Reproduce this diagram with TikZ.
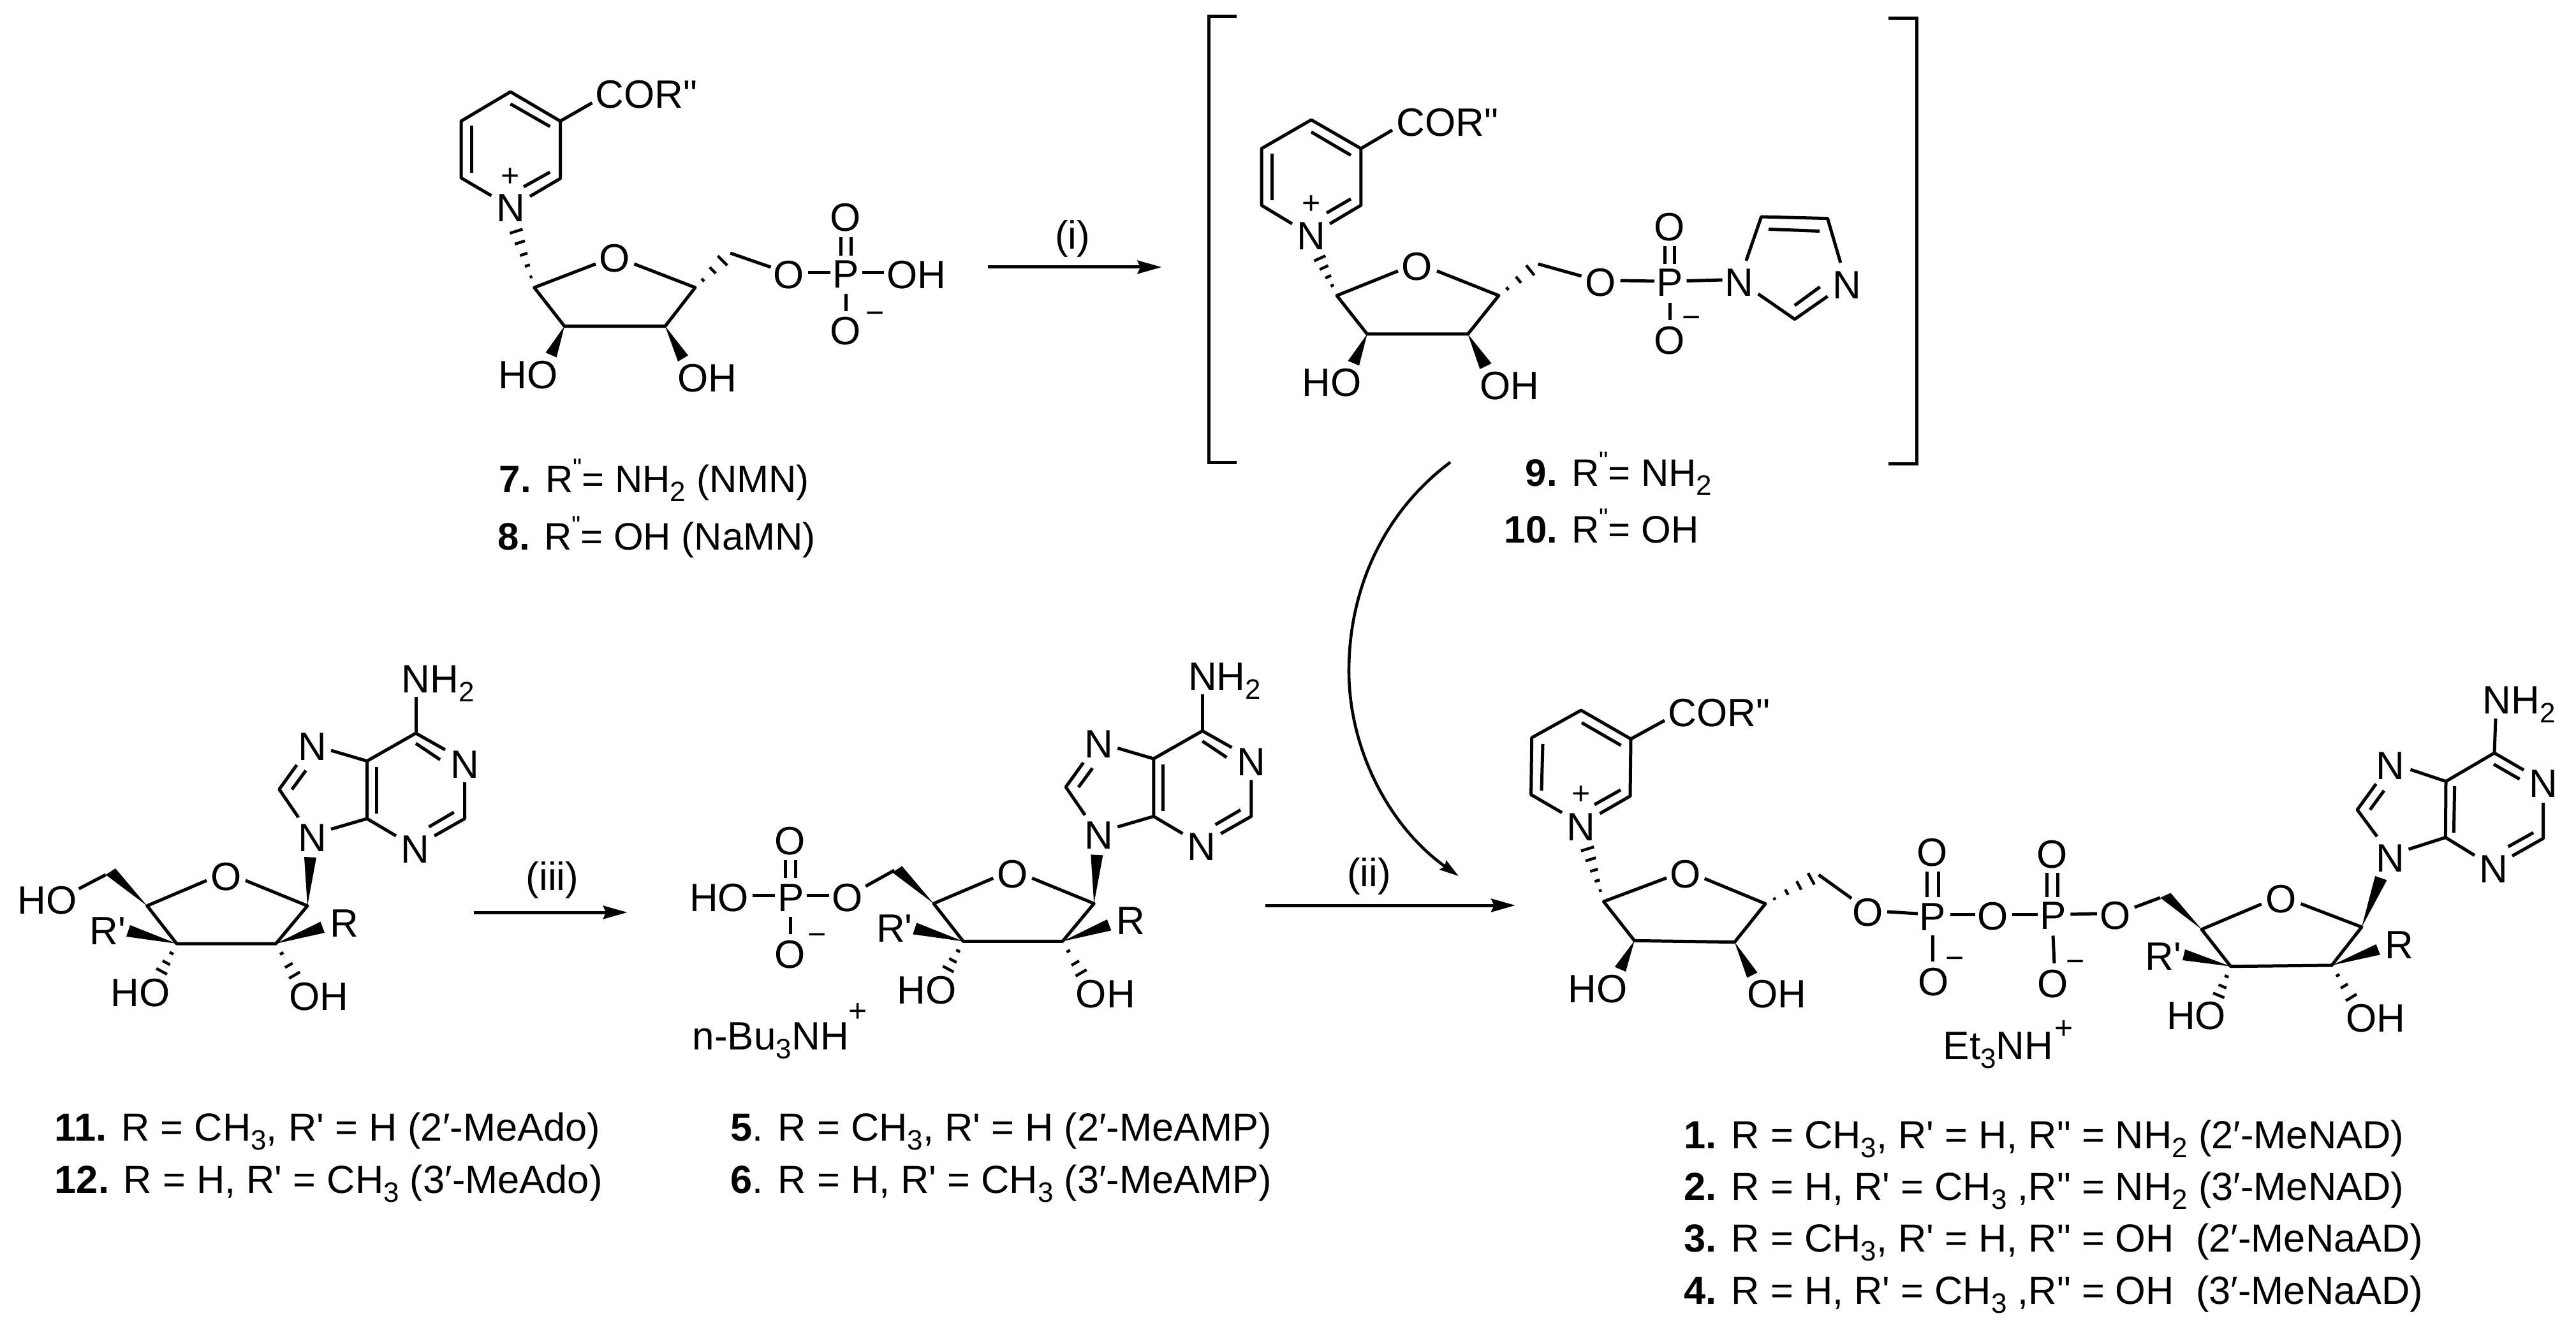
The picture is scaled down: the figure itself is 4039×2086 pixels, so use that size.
\documentclass[tikz,border=0pt]{standalone}
\usepackage{fontspec}
\usetikzlibrary{calc,arrows.meta}
\newfontfamily\chemf{Liberation Sans}
\newcommand{\sbs}[1]{\raisebox{-3.5pt}{\fontsize{11}{11}\selectfont #1}}
\newcommand{\Rq}{R\raisebox{6.3pt}{\fontsize{10}{10}\selectfont"}}
\newcommand{\atm}[3]{\node[atom] (#1) at (#2) {#3};}
\newcommand{\chg}[3]{\node[chgst] (#1) at (#2) {#3};}
\newcommand{\ltx}[3]{\node[lbl] (#1) at (#2) {#3};}
\newcommand{\ltb}[3]{\node[lblb] (#1) at (#2) {#3};}
\newcommand{\hashed}[4]{\foreach \t in {#3}{\draw[hashbar] ($(#1)!\t!(#2)!{\t*#4*0.25pt}!90:(#2)$) -- ($(#1)!\t!(#2)!{\t*#4*0.25pt}!-90:(#2)$);}}
\newcommand{\adeno}{%
 \draw[bond] (652,1150)--(652,1093);
 \draw[bond] (698,1176)--(652,1150)--(575.5,1193.6)--(575.5,1284)--(621,1311);
 \draw[bond] (652,1166)--(690,1191.5);
 \draw[bond] (728.6,1227)--(728.6,1284)--(681,1311);
 \draw[bond] (672.4,1297)--(711.7,1274);
 \draw[bond] (590,1203)--(590,1276);
 \draw[bond] (575.5,1193.6)--(519,1177);
 \draw[bond] (465.3,1199.8)--(437.8,1238)--(467.9,1282);
 \draw[bond] (457.7,1238.3)--(479.6,1208.5);
 \draw[bond] (519,1300.5)--(575.5,1284);
 \draw[bond] (324,1381)--(230.6,1420.7)--(277,1480)--(432.7,1480)--(482,1420.7)--(385,1381);
 \fill (482,1420.7)--(477,1344)--(496,1345)--cycle;
 \fill (432.7,1480)--(502.5,1445.6)--(509,1463)--cycle;
 \fill (277,1480)--(204,1451)--(198,1469)--cycle;
 \fill (230.6,1420.7)--(165.8,1372)--(181,1362)--cycle;
 \hashed{277,1480}{250,1530}{.3,.6,.87}{11}
 \hashed{432.7,1480}{465,1535}{.28,.62,.9}{11}
 \atm{n7}{490,1170}{N}
 \atm{n1}{728.6,1198}{N}
 \atm{n3}{650.5,1331}{N}
 \atm{n9}{490,1313}{N}
 \atm{o}{354.6,1374}{O}
 \atm{r}{539.5,1447}{R}
 \atm{rp}{169,1459}{R'}
 \atm{ho}{220,1556}{HO}
 \atm{oh}{500,1562}{OH}
 \node[lbla] (nh) at (629,1086) {NH\sbs{2}};
}
\tikzset{
 x=0.25pt,y=-0.25pt,
 bond/.style={line width=1.25pt,line join=round},
 hashbar/.style={line width=1.1pt},
 atom/.style={inner sep=0pt,anchor=center,text height=11pt,text depth=0pt,font=\chemf\fontsize{15.5}{18}\selectfont},
 lbla/.style={inner sep=0pt,anchor=base west,font=\chemf\fontsize{15.5}{18}\selectfont},
 lbl/.style={inner sep=0pt,anchor=base west,font=\chemf\fontsize{15}{18}\selectfont},
 lblb/.style={inner sep=0pt,anchor=base west,font=\chemf\fontsize{15.35}{18}\selectfont},
 chgst/.style={inner sep=0pt,anchor=base,yshift=-4.25pt,font=\chemf\fontsize{12.5}{14}\selectfont},
 rxn/.style={line width=1.25pt,-{Stealth[length=9.5pt,width=5.2pt,inset=1.2pt]}},
 rxnc/.style={line width=1.15pt,-{Stealth[length=7.5pt,width=4.4pt,inset=1pt]}},
 brk/.style={line width=1.25pt,line join=miter},
}
\begin{document}
\begin{tikzpicture}
\fill[white] (0,0) rectangle (4039,2086);
\useasboundingbox (0,0) rectangle (4039,2086);
% ---- compound 7/8
\draw[bond] (770.5,307)--(723,279)--(723,190)--(800.4,144)--(878.5,190)--(878.5,280)--(831,308);
\draw[bond] (800.4,163)--(862.4,198.5);
\draw[bond] (739,197)--(739,271);
\draw[bond] (821,293)--(862.4,270);
\draw[bond] (878.5,190)--(928.4,161.4);
\draw[bond] (934,414)--(837.7,451)--(885,511.6)--(1043,511.6)--(1090,451)--(994.4,414);
\fill (885,511.6)--(855.5,553)--(872.7,560.6)--cycle;
\fill (1043,511.6)--(1063,567)--(1079,557.5)--cycle;
\hashed{838,451}{808,358}{.18,.37,.56,.76,.95}{11}
\hashed{1090,451}{1145,397}{.22,.5,.78}{13.5}
\draw[bond] (1145,397)--(1208.5,419);
\draw[bond] (1267,428)--(1301.5,428);
\draw[bond] (1351.5,428)--(1386,428);
\draw[bond] (1318.7,372)--(1318.7,400.6);
\draw[bond] (1334,372)--(1334,400.6);
\draw[bond] (1326,461)--(1326,488);
\node[lbla] (cor7) at (933,170) {COR"};
\atm{n7a}{801,326}{N}
\chg{p7}{800.4,276}{+}
\atm{o7r}{963.4,405}{O}
\atm{o7a}{1236.6,431}{O}
\atm{p7a}{1326,430}{P}
\atm{oh7a}{1437,431}{OH}
\atm{o7b}{1326,341}{O}
\atm{o7c}{1326,519}{O}
\chg{m7}{1372,491}{−}
\atm{ho7}{828,588}{HO}
\atm{oh7}{1109,592}{OH}
\ltx{l7}{782,772.7}{\textbf{7.} \Rq= NH\sbs{2} (NMN)}
\ltx{l8}{780,862.7}{\textbf{8.} \Rq= OH (NaMN)}
% ---- arrow i
\coordinate (a1s) at (1549,419);
\coordinate (a1e) at (1821.4,419);
\draw[rxn] (a1s)--(a1e);
\atm{li}{1681.6,369}{(i)}
% ---- brackets
\draw[brk] (1939,26)--(1895,26)--(1895,726)--(1939,726);
\draw[brk] (2961,29)--(3005,29)--(3005,728)--(2961,728);
% ---- compound 9/10
\draw[bond] (2026,351)--(1978,322)--(1978,233)--(2056,188)--(2133.8,233)--(2133.8,322)--(2085,351);
\draw[bond] (2056,207)--(2118,243.5);
\draw[bond] (1994,241)--(1994,314);
\draw[bond] (2080,334)--(2118,312);
\draw[bond] (2133.8,233)--(2183,204);
\draw[bond] (2192,425)--(2096,463.6)--(2143.6,524)--(2301.5,524)--(2350,463.6)--(2253,425);
\fill (2143.6,524)--(2113.5,566)--(2131,573.4)--cycle;
\fill (2301.5,524)--(2320.4,579)--(2338.6,570)--cycle;
\hashed{2096,463.6}{2066,398}{.24,.45,.67,.89}{11}
\hashed{2350,463.6}{2411.6,414}{.22,.5,.8}{12.5}
\draw[bond] (2411.6,414)--(2479.6,433);
\draw[bond] (2540.7,440)--(2594,441);
\draw[bond] (2644.5,440.6)--(2700.6,439);
\draw[bond] (2610,386)--(2610,414);
\draw[bond] (2625.5,386)--(2625.5,414);
\draw[bond] (2618,475)--(2618,502);
\draw[bond] (2737.8,409)--(2761.6,340)--(2865.5,342.6)--(2885.8,412);
\draw[bond] (2773,359.5)--(2853,362.5);
\draw[bond] (2865.5,464.7)--(2814,500.7)--(2756.7,461);
\draw[bond] (2814,479)--(2853.5,450);
\node[lbla] (cor9) at (2189,214) {COR"};
\atm{n9a}{2056,370}{N}
\chg{p9}{2056,319}{+}
\atm{o9r}{2222,417.6}{O}
\atm{o9a}{2510,442.5}{O}
\atm{p9a}{2618,442.5}{P}
\atm{n9b}{2727,442.5}{N}
\atm{n9c}{2895.6,446.3}{N}
\atm{o9b}{2618,355.6}{O}
\atm{o9c}{2618,533.6}{O}
\chg{m9}{2652,498}{−}
\atm{ho9}{2088,600}{HO}
\atm{oh9}{2367,605}{OH}
\ltx{l9}{2391,762}{\textbf{9.} \Rq= NH\sbs{2}}
\ltx{l10}{2358,851}{\textbf{10.} \Rq= OH}
% ---- curved arrow ii
\coordinate (a3s) at (2274,725);
\coordinate (a3m) at (2115,1052);
\coordinate (a3e) at (2287,1374);
\draw[rxnc] (a3s) .. controls (2170,802.6) and (2115,923) .. (a3m) .. controls (2115,1180) and (2182,1300) .. (a3e);
% ---- compound 11/12
\begin{scope}[name prefix=c11-]
\adeno
\draw[bond] (165.8,1372)--(123.5,1394);
\atm{hoa}{74,1411}{HO}
\end{scope}
\ltb{l11}{85,1789}{\textbf{11.} R = CH\sbs{3}, R' = H (2′-MeAdo)}
\ltb{l12}{85,1871}{\textbf{12.} R = H, R' = CH\sbs{3} (3′-MeAdo)}
% ---- arrow iii
\coordinate (a2s) at (742.5,1431);
\coordinate (a2e) at (983.6,1431);
\draw[rxn] (a2s)--(a2e);
\atm{liii}{866,1374}{(iii)}
% ---- compound 5/6
\begin{scope}[shift={(1233.3,-3.6)},name prefix=c5-]
\adeno
\end{scope}
\draw[bond] (1402.3,1365)--(1357.3,1390);
\draw[bond] (1180,1404.6)--(1215,1404.6);
\draw[bond] (1265,1404.6)--(1300.4,1404.6);
\draw[bond] (1231,1349)--(1231,1377);
\draw[bond] (1247,1349)--(1247,1377);
\draw[bond] (1239,1437.6)--(1239,1465);
\atm{ho5}{1127.5,1407}{HO}
\atm{p5}{1240,1407}{P}
\atm{o5a}{1329,1407.5}{O}
\atm{o5b}{1238.6,1318}{O}
\atm{o5c}{1238.6,1496.5}{O}
\chg{m5}{1281,1465}{−}
\node[lbla] (bu) at (1085,1646) {n-Bu\sbs{3}NH};
\chg{pbu}{1345.4,1585}{+}
\ltb{l5}{1145,1789}{\textbf{5}. R = CH\sbs{3}, R' = H (2′-MeAMP)}
\ltb{l6}{1145,1871}{\textbf{6}. R = H, R' = CH\sbs{3} (3′-MeAMP)}
% ---- arrow ii
\coordinate (a4s) at (1983.5,1420);
\coordinate (a4e) at (2376,1420);
\draw[rxn] (a4s)--(a4e);
\atm{lii}{2146.5,1368}{(ii)}
% ---- compound 1-4
\draw[bond] (2449,1274.5)--(2400.6,1246.4)--(2401.7,1157)--(2479,1114)--(2557,1159)--(2556,1248.6)--(2508.5,1276);
\draw[bond] (2480,1133.5)--(2541.5,1169);
\draw[bond] (2419,1167)--(2417,1240);
\draw[bond] (2500,1262)--(2541,1239);
\draw[bond] (2557,1159)--(2610,1130);
\draw[bond] (2613,1377)--(2514.4,1414)--(2562.7,1475.4)--(2719.8,1477.6)--(2768,1417.4)--(2672.7,1378);
\fill (2562.7,1475.4)--(2531.8,1516.5)--(2549,1524)--cycle;
\fill (2719.8,1477.6)--(2739.3,1533.5)--(2755.6,1525.4)--cycle;
\hashed{2514.4,1414}{2488,1328}{.2,.38,.57,.77,.96}{11}
\hashed{2768,1417.4}{2851.5,1372}{.17,.4,.63,.86}{12}
\draw[bond] (2851.5,1372)--(2903,1409);
\draw[bond] (2959,1430)--(3007,1433);
\draw[bond] (3021.7,1367)--(3021.7,1407);
\draw[bond] (3039.6,1367)--(3039.6,1407);
\draw[bond] (3030.4,1467.4)--(3030.4,1507.6);
\draw[bond] (3057.5,1434)--(3097,1434);
\draw[bond] (3155,1434)--(3194.6,1434);
\draw[bond] (3209.5,1369)--(3209.5,1407);
\draw[bond] (3226.5,1369)--(3226.5,1407);
\draw[bond] (3219,1467.5)--(3221,1511);
\draw[bond] (3246.4,1434)--(3287.8,1433);
\draw[bond] (3387,1408)--(3346.8,1423);
% adenosine of the dinucleotide
\draw[bond] (3911,1181)--(3913,1127);
\draw[bond] (3957,1207.7)--(3911,1181)--(3835,1225.5)--(3834.4,1313.5)--(3880,1341.6);
\draw[bond] (3910,1198.7)--(3950.6,1222);
\draw[bond] (3987.5,1259)--(3987.5,1315)--(3939,1342.5);
\draw[bond] (3932.5,1328)--(3972,1306);
\draw[bond] (3848.6,1233)--(3847.4,1306);
\draw[bond] (3835,1225.5)--(3779.4,1207);
\draw[bond] (3725.5,1229.5)--(3696,1270)--(3727,1312);
\draw[bond] (3716,1270)--(3738,1240);
\draw[bond] (3776.5,1332)--(3834.4,1313.5);
\draw[bond] (3545.8,1418)--(3452,1457.6)--(3497.6,1515.7)--(3656,1514)--(3703,1454)--(3607.6,1417.5);
\fill (3703,1454)--(3724,1374)--(3742.5,1380.4)--cycle;
\fill (3656,1514)--(3725.5,1481)--(3732,1497.4)--cycle;
\fill (3497.6,1515.7)--(3426,1489)--(3422,1506)--cycle;
\fill (3452,1457.6)--(3387,1408)--(3403.4,1400.5)--cycle;
\hashed{3497.6,1515.7}{3476,1568}{.3,.6,.87}{11}
\hashed{3656,1514}{3690,1570}{.28,.58,.9}{11}
\node[lbla] (cor1) at (2615,1139) {COR"};
\atm{n1a}{2478.6,1296.4}{N}
\chg{p1}{2478.6,1244}{+}
\atm{o1r}{2643,1370}{O}
\atm{o1a}{2928.5,1430}{O}
\atm{p1a}{3030.4,1437.5}{P}
\atm{o1b}{3029.3,1336.6}{O}
\atm{o1c}{3031.5,1539}{O}
\chg{m1a}{3065,1502.7}{−}
\atm{o1d}{3125,1436}{O}
\atm{p1b}{3219,1435}{P}
\atm{o1e}{3218,1339.4}{O}
\atm{o1f}{3219,1542.5}{O}
\chg{m1b}{3254.5,1507}{−}
\atm{o1g}{3317,1435}{O}
\atm{ho1}{2505,1550}{HO}
\atm{oh1}{2785.5,1558}{OH}
\node[lbla] (et) at (3046,1661.6) {Et\sbs{3}NH};
\chg{pet}{3236,1612.5}{+}
\atm{o1h}{3576.4,1409.4}{O}
\atm{n1b}{3748,1200.5}{N}
\atm{n1c}{3748,1345}{N}
\atm{n1d}{3987.5,1228.7}{N}
\atm{n1e}{3910,1362.6}{N}
\atm{r1}{3762,1481.5}{R}
\atm{rp1}{3392,1499}{R'}
\atm{ho1b}{3443.5,1592}{HO}
\atm{oh1b}{3725,1596}{OH}
\node[lbla] (nh1) at (3892,1119) {NH\sbs{2}};
\ltb{l1}{2640,1801}{\textbf{1.} R = CH\sbs{3}, R' = H, R" = NH\sbs{2} (2′-MeNAD)}
\ltb{l2}{2640,1882.7}{\textbf{2.} R = H, R' = CH\sbs{3} ,R" = NH\sbs{2} (3′-MeNAD)}
\ltb{l3}{2640,1963.3}{\textbf{3.} R = CH\sbs{3}, R' = H, R" = OH\ \ (2′-MeNaAD)}
\ltb{l4}{2640,2045}{\textbf{4.} R = H, R' = CH\sbs{3} ,R" = OH\ \ (3′-MeNaAD)}
\end{tikzpicture}
\end{document}
